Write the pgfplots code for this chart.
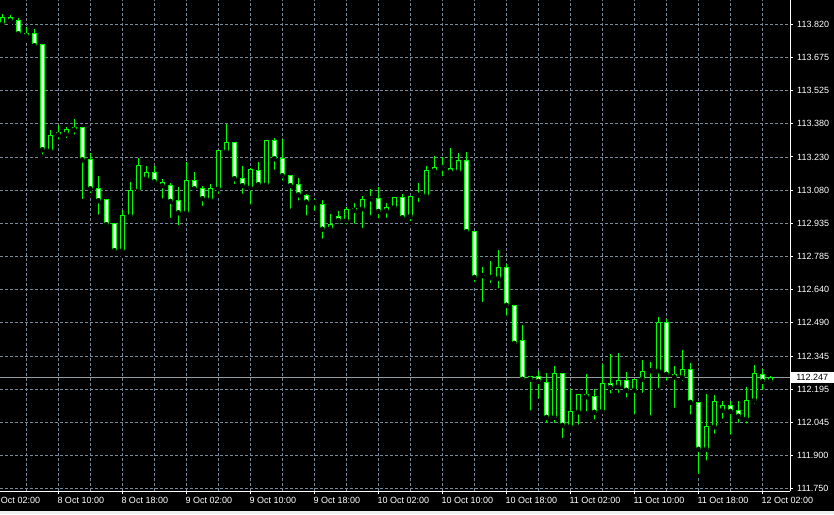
\documentclass[border=0pt]{standalone}
\usepackage{pgfplots}
\pgfplotsset{compat=1.18}
\usepackage{pgfplotstable}
\usepackage{fontspec}
\setmainfont{Liberation Sans}
\definecolor{mtgreen}{RGB}{0,255,0}
\definecolor{mtgrid}{RGB}{119,136,153}
\definecolor{bidline}{RGB}{150,155,160}

% bullish candles (close >= open), dojis included
\pgfplotstableread{
k o h l c
0 113.821 113.865 113.814 113.851
6 113.257 113.349 113.245 113.325
8 113.332 113.364 113.304 113.353
15 112.811 112.992 112.792 112.969
16 112.965 113.117 112.960 113.080
17 113.078 113.224 113.074 113.191
18 113.132 113.188 113.121 113.160
23 112.980 113.206 112.965 113.125
26 113.038 113.108 113.034 113.089
27 113.087 113.258 113.055 113.258
28 113.252 113.376 113.252 113.294
31 113.092 113.178 113.007 113.174
33 113.105 113.303 113.099 113.303
39 113.025 113.040 112.979 113.025
41 112.909 112.975 112.891 112.929
43 112.945 113.007 112.918 112.995
44 112.991 113.022 112.922 113.000
45 112.998 113.055 112.903 113.040
46 113.043 113.086 112.958 113.043
48 112.989 113.022 112.948 113.004
49 113.004 113.049 112.989 113.049
51 112.964 113.053 112.933 113.053
52 113.058 113.114 113.019 113.058
53 113.056 113.188 113.051 113.169
54 113.167 113.233 113.144 113.183
55 113.180 113.227 113.134 113.180
57 113.163 113.245 113.153 113.214
60 112.700 112.738 112.573 112.700
61 112.691 112.765 112.658 112.691
62 112.688 112.814 112.633 112.738
66 112.238 112.252 112.089 112.251
69 112.068 112.297 112.034 112.264
71 112.028 112.194 112.016 112.095
72 112.093 112.171 112.026 112.171
75 112.095 112.306 112.095 112.220
77 112.205 112.354 112.168 112.233
79 112.189 112.238 112.071 112.238
80 112.238 112.323 112.168 112.273
81 112.276 112.315 112.067 112.276
82 112.276 112.514 112.190 112.492
85 112.247 112.368 112.222 112.282
88 111.926 112.171 111.866 112.028
89 112.026 112.166 111.986 112.139
90 112.100 112.141 112.053 112.122
93 112.062 112.202 112.031 112.145
94 112.144 112.301 112.120 112.264
96 112.229 112.252 112.221 112.247
}\bull

% bearish candles (close < open)
\pgfplotstableread{
k o h l c
1 113.851 113.861 113.824 113.836
2 113.838 113.847 113.760 113.778
3 113.781 113.809 113.754 113.769
4 113.777 113.799 113.705 113.725
5 113.728 113.730 113.230 113.261
7 113.337 113.371 113.297 113.328
9 113.362 113.398 113.319 113.350
10 113.362 113.363 113.032 113.216
11 113.218 113.245 113.059 113.087
12 113.089 113.144 112.962 113.034
13 113.040 113.041 112.918 112.927
14 112.930 112.931 112.799 112.811
19 113.160 113.188 113.111 113.118
20 113.116 113.129 113.034 113.101
21 113.102 113.114 112.948 113.031
22 113.036 113.093 112.915 112.980
24 113.125 113.162 113.069 113.087
25 113.089 113.099 113.001 113.043
29 113.294 113.294 113.099 113.132
30 113.134 113.188 113.055 113.101
32 113.169 113.206 113.096 113.105
34 113.303 113.313 113.162 113.221
35 113.223 113.307 113.114 113.145
36 113.144 113.147 112.989 113.101
37 113.107 113.134 113.025 113.060
38 113.058 113.064 112.958 113.028
40 113.018 113.037 112.855 112.907
42 112.964 112.988 112.922 112.946
47 113.044 113.093 112.945 112.986
50 113.049 113.062 112.952 112.958
56 113.178 113.269 113.159 113.163
58 113.214 113.251 112.888 112.896
59 112.897 112.898 112.662 112.692
63 112.738 112.750 112.512 112.568
64 112.568 112.569 112.383 112.398
65 112.411 112.480 112.227 112.238
67 112.252 112.275 112.141 112.229
68 112.224 112.264 112.034 112.068
70 112.264 112.265 111.967 112.033
73 112.171 112.261 112.086 112.160
74 112.162 112.193 112.049 112.091
76 112.220 112.349 112.165 112.202
78 112.233 112.270 112.147 112.189
83 112.492 112.506 112.222 112.260
84 112.258 112.297 112.101 112.248
86 112.282 112.310 112.071 112.135
87 112.135 112.136 111.807 111.926
91 112.122 112.141 111.981 112.095
92 112.100 112.141 112.035 112.073
95 112.260 112.282 112.180 112.229
}\bear

\tikzset{mtlabel/.style={font=\fontsize{9}{10}\selectfont, text=white, inner sep=0pt}}
\pgfplotsset{candlebar/.style 2 args={only marks, mark=none, forget plot,
  error bars/.cd, y dir=plus, y explicit, error mark=none,
  error bar style={#1, line width=#2, line cap=butt}}}

\begin{document}
\begin{tikzpicture}
\fill[black] (0pt,-23pt) rectangle (834pt,491pt);
\fill[white!94!black] (0pt,-23pt) rectangle (834pt,-20pt);
\begin{axis}[
  at={(0pt,0pt)}, anchor=south west,
  width=790pt, height=491pt, scale only axis,
  xmin=-0.2875, xmax=98.4625,
  ymin=111.73975, ymax=113.92831,
  clip=false,
  axis x line*=bottom, axis y line*=right,
  axis line style={white, line width=1pt},
  xtick={7,15,...,95},
  xticklabels={8 Oct 10:00, 8 Oct 18:00, 9 Oct 02:00, 9 Oct 10:00, 9 Oct 18:00, 10 Oct 02:00, 10 Oct 10:00, 10 Oct 18:00, 11 Oct 02:00, 11 Oct 10:00, 11 Oct 18:00, 12 Oct 02:00},
  minor xtick={3,11,...,91},
  ytick={111.75,111.897857,112.045714,112.193571,112.341429,112.489286,112.637143,112.785,112.932857,113.080714,113.228571,113.376429,113.524286,113.672143,113.82},
  yticklabels={111.750,111.900,112.045,112.195,112.345,112.490,112.640,112.785,112.935,113.080,113.230,113.380,113.525,113.675,113.820},
  xmajorgrids, xminorgrids, ymajorgrids,
  major grid style={mtgrid, dash pattern=on 3pt off 2pt, line width=0.8pt},
  minor grid style={mtgrid, dash pattern=on 3pt off 2pt, line width=0.8pt},
  tick style={white, line width=1pt},
  tick align=outside,
  major tick length=3pt, minor tick length=0pt,
  xticklabel style={mtlabel, anchor=base west, xshift=-1pt, yshift=-9.5pt},
  yticklabel style={mtlabel, anchor=west, xshift=4pt},
  /pgf/number format/assume math mode=true,
]
% bid line
\addplot[bidline, line width=0.8pt, forget plot] coordinates {(-0.2875,112.247) (98.4625,112.247)};
% wicks (from low up to high)
\addplot[candlebar={mtgreen}{1pt}] table[x=k, y=l, y error expr={\thisrow{h}-\thisrow{l}}] {\bull};
\addplot[candlebar={mtgreen}{1pt}] table[x=k, y=l, y error expr={\thisrow{h}-\thisrow{l}}] {\bear};
% bodies: outline
\addplot[candlebar={mtgreen}{5pt}] table[x=k, y expr={\thisrow{o}-0.00223}, y error expr={\thisrow{c}-\thisrow{o}+0.00446}] {\bull};
\addplot[candlebar={mtgreen}{5pt}] table[x=k, y expr={\thisrow{c}-0.00223}, y error expr={\thisrow{o}-\thisrow{c}+0.00446}] {\bear};
% bodies: fill
\addplot[candlebar={black}{3pt}] table[x=k, y expr={\thisrow{o}+0.00223}, y error expr={max(\thisrow{c}-\thisrow{o}-0.00446,0)}] {\bull};
\addplot[candlebar={white}{3pt}] table[x=k, y expr={\thisrow{c}+0.00223}, y error expr={max(\thisrow{o}-\thisrow{c}-0.00446,0)}] {\bear};
% first, partly hidden time label
\node[mtlabel, anchor=base west, xshift=-1pt, yshift=-12.5pt] at (axis cs:-1,111.73975) {8 Oct 02:00};
% current price box
\node[fill=white, text=black, font=\fontsize{9}{10}\selectfont, inner sep=0pt,
  minimum width=44pt, minimum height=11pt, anchor=west] at (axis cs:98.4625,112.247) {112.247};
\end{axis}
\pgfresetboundingbox
\useasboundingbox (0pt,-23pt) rectangle (834pt,491pt);
\end{tikzpicture}
\end{document}
